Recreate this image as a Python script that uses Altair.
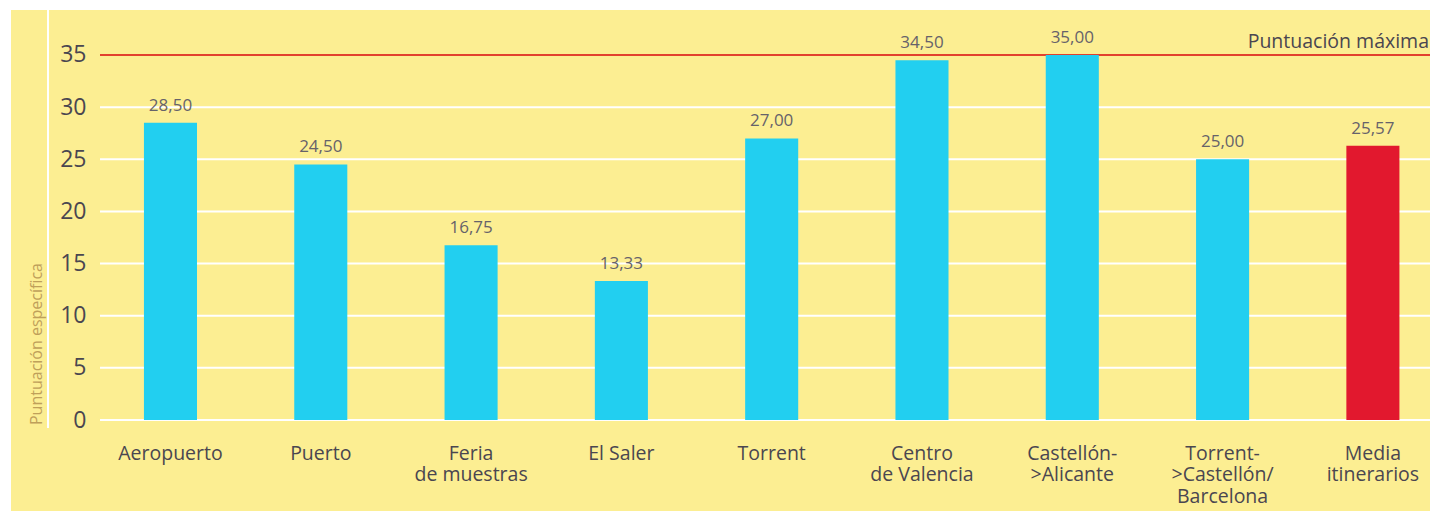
import altair as alt
import pandas as pd

# ---- data ----
categories = [
    "Aeropuerto",
    "Puerto",
    "Feria\nde muestras",
    "El Saler",
    "Torrent",
    "Centro\nde Valencia",
    "Castellón-\n>Alicante",
    "Torrent-\n>Castellón/\nBarcelona",
    "Media\nitinerarios",
]
bar_values = [28.5, 24.5, 16.75, 13.33, 27.0, 34.5, 35.0, 25.0, 26.3]
value_labels = ["28,50", "24,50", "16,75", "13,33", "27,00", "34,50", "35,00", "25,00", "25,57"]
y_ticks = [0, 5, 10, 15, 20, 25, 30, 35]
max_score = 35
max_label = "Puntuación máxima"
y_title = "Puntuación específica"
highlight = "Media\nitinerarios"

# ---- styles ----
YELLOW = "#FCEE92"
CYAN = "#22CFF0"
RED = "#E2182E"
LINE_RED = "#E2402E"
TEXT = "#4A4650"
VALTEXT = "#66626A"
TITLE = "#BFA05A"
FONT = "Open Sans"

W, H = 1419, 501
y_scale = alt.Scale(domain=[-8.726, 39.315], nice=False, zero=False)
y_axis = alt.Axis(
    values=y_ticks, labelAlign="right", labelBaseline="middle", offset=-75,
    ticks=False, domain=False, grid=False, labelPadding=0, labelFontSize=23,
    labelColor=TEXT, labelFont=FONT, title=None, labelOverlap=False,
)

df = pd.DataFrame({"cat": categories, "value": bar_values, "label": value_labels})
grid_df = pd.DataFrame({"v": y_ticks})
max_df = pd.DataFrame({"v": [max_score], "t": [max_label]})
title_df = pd.DataFrame({"t": [y_title]})

x_axis = alt.Axis(
    orient="bottom", offset=-67, labelPadding=0, ticks=False, domain=False,
    labelAngle=0, labelBaseline="top", labelFontSize=19.5, labelLineHeight=21.5,
    labelExpr="split(datum.label, '\\n')", title=None, labelColor=TEXT,
    labelFont=FONT, labelOverlap=False, labelLimit=0,
)
x_scale = alt.Scale(paddingInner=0.647, paddingOuter=0.544, align=0.813)

grid = alt.Chart(grid_df).mark_rule(color="white", strokeWidth=2).encode(
    y=alt.Y("v:Q", scale=y_scale, axis=y_axis),
    x=alt.value(89), x2=alt.value(W),
)

bars = alt.Chart(df).mark_bar().encode(
    x=alt.X("cat:N", sort=None, scale=x_scale, axis=x_axis),
    y=alt.Y("value:Q", scale=y_scale, axis=y_axis),
    y2=alt.datum(0),
    color=alt.condition(alt.datum.cat == highlight, alt.value(RED), alt.value(CYAN)),
)

texts = alt.Chart(df).mark_text(
    dy=-12, baseline="alphabetic", fontSize=17, color=VALTEXT, font=FONT
).encode(
    x=alt.X("cat:N", sort=None, scale=x_scale, axis=x_axis),
    y=alt.Y("value:Q", scale=y_scale, axis=y_axis),
    text="label:N",
)

max_rule = alt.Chart(max_df).mark_rule(color=LINE_RED, strokeWidth=2).encode(
    y=alt.Y("v:Q", scale=y_scale, axis=y_axis),
    x=alt.value(89), x2=alt.value(W),
)

max_text = alt.Chart(max_df).mark_text(
    align="right", baseline="alphabetic", dy=-7, fontSize=19.5, color=TEXT, font=FONT
).encode(
    y=alt.Y("v:Q", scale=y_scale, axis=y_axis),
    x=alt.value(W - 1),
    text="t:N",
)

sep = alt.Chart(max_df).mark_rule(color="white", strokeWidth=2).encode(
    x=alt.value(37), y=alt.value(0), y2=alt.value(418),
)

ytitle = alt.Chart(title_df).mark_text(
    angle=270, align="center", baseline="middle", fontSize=16, color=TITLE, font=FONT
).encode(
    x=alt.value(26), y=alt.value(334), text="t:N",
)

chart = alt.layer(grid, max_rule, bars, texts, max_text, sep, ytitle).properties(
    width=W, height=H,
    padding={"left": 11, "top": 10, "right": 0, "bottom": 0},
    autosize="none",
    background="white",
).configure_view(fill=YELLOW, stroke=None)

chart.save("out.html", embed_options={"renderer": "svg", "actions": False})
